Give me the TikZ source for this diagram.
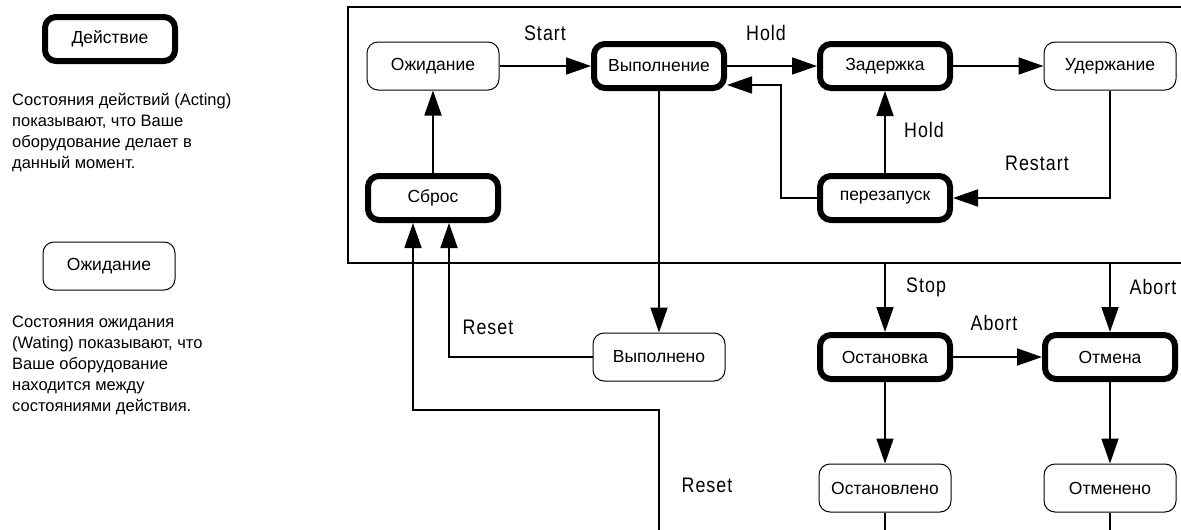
\documentclass[tikz,border=0pt]{standalone}
\usepackage{fontspec}
\setmainfont{Liberation Sans}
\newfontfamily\lblfamily[FakeStretch=0.85,LetterSpace=5]{Liberation Sans}
\usepackage{tikz}
\usetikzlibrary{arrows.meta}
\newcommand\nodefnt{\fontsize{17.5}{20}\selectfont}
\newcommand\lblfnt{\lblfamily\fontsize{21}{25}\selectfont}
\newcommand\txtfnt{\fontsize{16.5}{21}\selectfont}

\begin{document}
\begin{tikzpicture} [x=1pt,y=-1pt,
  act/.style= {draw,line width=6pt,rounded corners=11pt,minimum width=130pt,minimum height=44pt,inner sep=0,font=\nodefnt},
  wait/.style= {draw,line width=1pt,rounded corners=11pt,minimum width=132pt,minimum height=48pt,inner sep=0,font=\nodefnt},
  lbl/.style= {font=\lblfnt,inner sep=0},
  txt/.style= {font=\txtfnt,align=left,anchor=north west,inner sep=0},
  conn/.style= {line width=1.8pt,-{Triangle[length=25pt,width=17pt]}},
  line/.style= {line width=1.8pt}]
\useasboundingbox (0,0) rectangle (1181,530);

% legend
\node[act] (leg1) at (110,39) {Действие};
\node[txt] (legt1) at (12,93) {Состояния действий (Acting)\\показывают, что Ваше\\оборудование делает в\\данный момент.};
\node[wait] (leg2) at (109,266) {Ожидание};
\node[txt] (legt2) at (12,316) {Состояния ожидания\\(Wating) показывают, что\\Ваше оборудование\\находится между\\состояниями действия.};

% frame
\draw[line] (1181,7) -- (348,7) -- (348,263) -- (1181,263);
\coordinate (stopin) at (885,263);
\coordinate (abortin) at (1110,263);

% states
\node[wait] (ozh) at (433,66) {Ожидание};
\node[act] (vyp) at (659,66) {Выполнение};
\node[act] (zad) at (885,66) {Задержка};
\node[wait] (uder) at (1110,66) {Удержание};
\node[act] (sbros) at (433,198) {Сброс};
\node[act] (perez) at (885,198) {перезапуск};
\node[wait] (vypd) at (659,357) {Выполнено};
\node[act] (ost) at (885,357) {Остановка};
\node[act] (otm) at (1110,357) {Отмена};
\node[wait] (ostd) at (885,488) {Остановлено};
\node[wait] (otmd) at (1110,488) {Отменено};
\coordinate (rsin) at (659,530);
\coordinate (ostout) at (885,530);
\coordinate (otmout) at (1110,530);

% transitions
\draw[conn] (ozh) -- (vyp);
\draw[conn] (sbros) -- (ozh);
\draw[conn] (vyp) -- (zad);
\draw[conn] (zad) -- (uder);
\draw[conn] (uder.south) |- (perez.east);
\draw[conn] (perez) -- (zad);
\draw[conn] (perez.west) -- ++(-36,0) |- ([yshift=-19pt]vyp.east);
\draw[conn] (vyp) -- (vypd);
\draw[conn] (vypd.west) -| ([xshift=16pt]sbros.south);
\draw[conn] (rsin) -- ++(0,-120) -| ([xshift=-20pt]sbros.south);
\draw[conn] (stopin) -- (ost);
\draw[conn] (abortin) -- (otm);
\draw[conn] (ost) -- (otm);
\draw[conn] (ost) -- (ostd);
\draw[conn] (otm) -- (otmd);
\draw[line] (ostd) -- (ostout);
\draw[line] (otmd) -- (otmout);

\foreach \t/\x/\y [count=\i] in {Start/545/33,Hold/766/33,Hold/924/130,Restart/1037/163,
  Reset/488/327,Reset/707/485,Stop/926/287,Abort/994/323,Abort/1153/287}
  \node[lbl] (l\i) at (\x,\y) {\t};
\end{tikzpicture}
\end{document}
